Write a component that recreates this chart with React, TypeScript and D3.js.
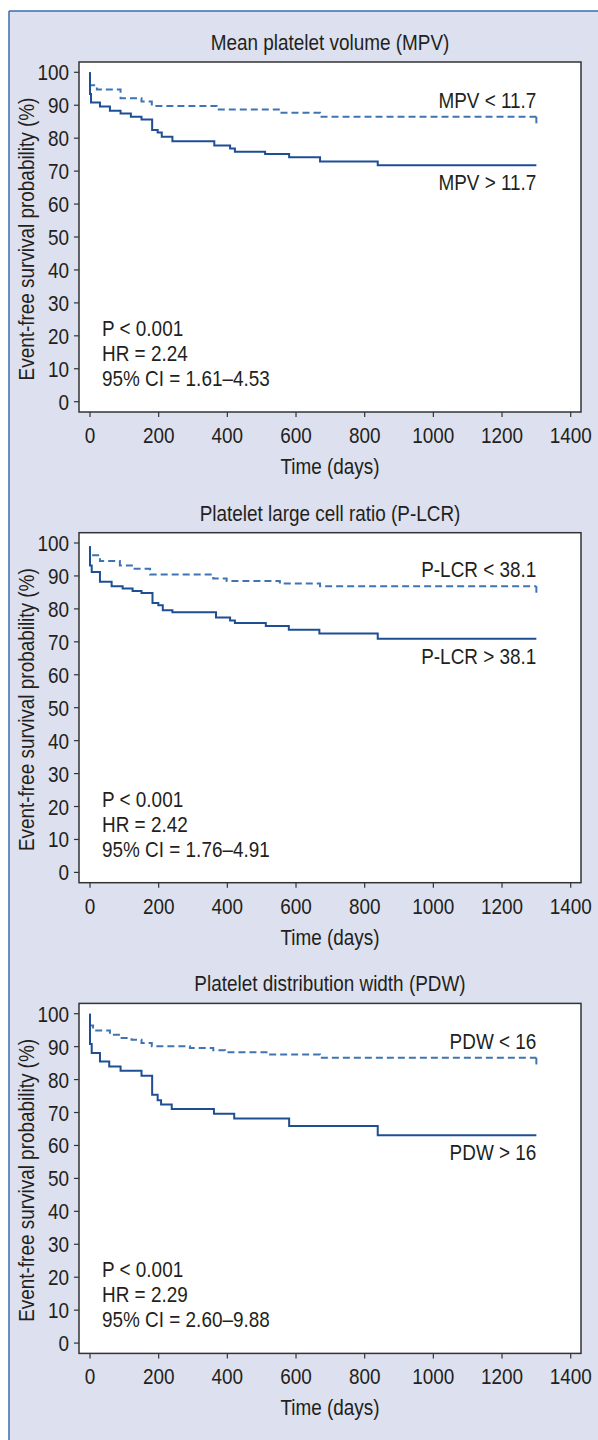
import React from 'react'
import * as d3 from 'd3'

// Kaplan-Meier curves: [day, survival %]
const mpvLow = [[0, 100], [0, 96.1], [20, 94.8], [89, 92.1], [150, 91.1], [180, 89.8], [369, 88.7], [553, 87.7], [670, 86.5], [1300, 86.5]]
const mpvHigh = [[0, 100], [0, 93.4], [3, 90.8], [29, 89.6], [58, 88.3], [89, 87.5], [119, 86.5], [150, 85.7], [181, 82.5], [197, 81.7], [209, 80.4], [240, 79.1], [362, 77.8], [408, 76.9], [422, 75.9], [510, 75.2], [580, 74.2], [670, 72.9], [838, 71.8], [1300, 71.8]]

const plcrLow = [[0, 99], [0, 96.3], [29, 94.5], [87, 93.2], [126, 92.2], [175, 90.4], [359, 89.2], [398, 88.5], [553, 87.7], [670, 86.9], [1300, 86.9]]
const plcrHigh = [[0, 99], [0, 93.2], [5, 91.2], [29, 88.2], [63, 86.9], [95, 86.2], [124, 85.4], [150, 84.8], [182, 81.8], [199, 81.1], [212, 79.6], [240, 79.0], [367, 77.4], [408, 76.5], [422, 75.7], [512, 74.8], [579, 73.7], [668, 72.5], [838, 70.9], [1300, 70.9]]

const pdwLow = [[0, 100], [0, 96.4], [9, 94.9], [58, 93.6], [89, 92.6], [121, 92.1], [150, 91.1], [180, 90.1], [291, 89.6], [359, 88.9], [393, 88.3], [519, 87.6], [670, 86.6], [1300, 86.6]]
const pdwHigh = [[0, 100], [0, 90.8], [5, 88.1], [29, 85.5], [56, 84.0], [89, 82.7], [150, 81.2], [181, 75.4], [197, 73.7], [207, 72.4], [238, 71.1], [361, 69.6], [420, 68.2], [580, 65.9], [838, 63.1], [1300, 63.1]]

const titles = ['Mean platelet volume (MPV)', 'Platelet large cell ratio (P-LCR)', 'Platelet distribution width (PDW)']
const lowLabels = ['MPV < 11.7', 'P-LCR < 38.1', 'PDW < 16']
const highLabels = ['MPV > 11.7', 'P-LCR > 38.1', 'PDW > 16']
const stats = [
  ['P < 0.001', 'HR = 2.24', '95% CI = 1.61–4.53'],
  ['P < 0.001', 'HR = 2.42', '95% CI = 1.76–4.91'],
  ['P < 0.001', 'HR = 2.29', '95% CI = 2.60–9.88']
]
const xTicks = [0, 200, 400, 600, 800, 1000, 1200, 1400]
const yTicks = [0, 10, 20, 30, 40, 50, 60, 70, 80, 90, 100]

const lows = [mpvLow, plcrLow, pdwLow]
const highs = [mpvHigh, plcrHigh, pdwHigh]

// condensed look: Liberation Sans squeezed horizontally
const font = "'Liberation Sans', Arial, sans-serif"
const squeeze = 0.88
const ink = '#231f20'
const solidBlue = '#1f4f93'
const dashBlue = '#3f74b3'
const panelStep = 470.7

const box = { left: 79, right: 581, top: 62, bottom: 412 }
const x = d3.scaleLinear().domain([0, 1400]).range([90, 570.7])
const y = d3.scaleLinear().domain([0, 100]).range([401.7, 72.3])
const step = d3.line<number[]>()
  .x(d => x(d[0]))
  .y(d => y(d[1]))
  .curve(d3.curveStepAfter)

function T ({ x, y, anchor = 'start', rotate = false, children }: any) {
  return (
    <text
      transform={`translate(${x},${y})${rotate ? ' rotate(-90)' : ''} scale(${squeeze},1)`}
      textAnchor={anchor}
      fontSize={21.5}
    >
      {children}
    </text>
  )
}

function Panel ({ i }: { i: number }) {
  const low = lows[i]
  const high = highs[i]
  const lowEnd = low[low.length - 1]
  const highEnd = high[high.length - 1]
  return (
    <g transform={`translate(0,${i * panelStep})`} fontFamily={font} fill={ink}>
      <T x={330} y={50} anchor='middle'>{titles[i]}</T>
      <rect x={box.left} y={box.top} width={box.right - box.left} height={box.bottom - box.top}
        fill='#fff' stroke='#333' strokeWidth={1.5} />

      {yTicks.map(t => (
        <g key={t}>
          <line x1={box.left - 5} x2={box.left} y1={y(t)} y2={y(t)} stroke='#333' strokeWidth={1.2} />
          <T x={box.left - 10} y={y(t) + 8} anchor='end'>{t}</T>
        </g>
      ))}
      {xTicks.map(t => (
        <g key={t}>
          <line x1={x(t)} x2={x(t)} y1={box.bottom} y2={box.bottom + 5} stroke='#333' strokeWidth={1.2} />
          <T x={x(t)} y={443} anchor='middle'>{t}</T>
        </g>
      ))}
      <T x={330} y={474} anchor='middle'>Time (days)</T>
      <T x={34} y={239} anchor='middle' rotate>Event-free survival probability (%)</T>

      <path d={step(low) || ''} fill='none' stroke={dashBlue} strokeWidth={2} strokeDasharray='7,4' />
      <line x1={x(lowEnd[0])} x2={x(lowEnd[0])} y1={y(lowEnd[1])} y2={y(lowEnd[1] - 2)}
        stroke={dashBlue} strokeWidth={2} />
      <path d={step(high) || ''} fill='none' stroke={solidBlue} strokeWidth={2} />

      <T x={x(lowEnd[0])} y={y(lowEnd[1]) - 9} anchor='end'>{lowLabels[i]}</T>
      <T x={x(highEnd[0])} y={y(highEnd[1]) + 25} anchor='end'>{highLabels[i]}</T>

      {stats[i].map((s, k) => (
        <T key={k} x={102} y={336 + k * 25}>{s}</T>
      ))}
    </g>
  )
}

export default function App () {
  return (
    <svg width={598} height={1440} style={{ position: 'absolute', left: 0, top: 0 }}>
      <rect x={0} y={0} width={598} height={1440} fill='#fff' />
      <rect x={9} y={11} width={600} height={1440} fill='#dde0ee' />
      <line x1={9} x2={598} y1={11} y2={11} stroke='#3a6db0' strokeWidth={1.5} />
      <line x1={9} x2={9} y1={11} y2={1440} stroke='#3a6db0' strokeWidth={1.5} />
      {[0, 1, 2].map(i => <Panel key={i} i={i} />)}
    </svg>
  )
}
